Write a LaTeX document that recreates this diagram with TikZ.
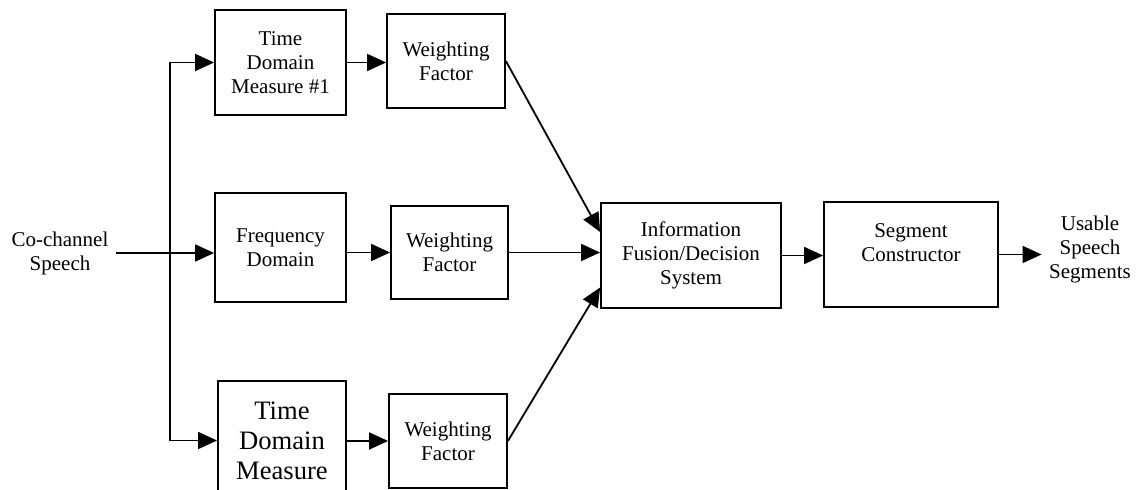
\documentclass[tikz,border=0pt]{standalone}
\usepackage{fontspec}
\setmainfont{Liberation Serif}
\usetikzlibrary{arrows.meta,calc}

\begin{document}
\begin{tikzpicture}[x=0.5pt, y=-0.5pt, line width=0.9pt,
  blk/.style={draw, align=center, inner sep=1pt, font=\fontsize{10.5}{12}\selectfont},
  lbl/.style={align=center, font=\fontsize{10.5}{12}\selectfont},
  >={Triangle[length=9.5pt,width=8.5pt]}]
  \useasboundingbox (0,0) rectangle (1141,490);
  \node[blk, minimum width=65.5pt, minimum height=52.5pt] (tdA) at (280.5,62.5) {Time\\Domain\\Measure \#1};
  \node[blk, minimum width=59pt, minimum height=47pt] (wfA) at (446,61) {Weighting\\Factor};
  \node[blk, minimum width=65.5pt, minimum height=54.5pt] (fd) at (280.5,247.5) {Frequency\\Domain};
  \node[blk, minimum width=58.5pt, minimum height=46.5pt] (wfB) at (449.5,252.5) {Weighting\\Factor};
  \node[blk, minimum width=64pt, minimum height=59.5pt, font=\fontsize{13.3}{15}\selectfont] (tdC) at (282,440.5) {Time\\Domain\\Measure};
  \node[blk, minimum width=59pt, minimum height=47pt] (wfC) at (448,441) {Weighting\\Factor};
  \node[blk, minimum width=90pt, minimum height=52.5pt] (fus) at (691,255.5) {Information\\Fusion/Decision\\System};
  \node[blk, minimum width=87pt, minimum height=52.5pt] (seg) at (911,254.5) {Segment\\Constructor\\\mbox{}};
  \node[lbl] (cc) at (60,253) {Co-channel\\Speech};
  \node[lbl] (out) at (1090,249) {Usable\\Speech\\Segments};
  \coordinate (split) at (170,253);

  \draw[->] (cc.east) -- (cc.east -| fd.west);
  \draw[->] (split) |- (tdA.west);
  \draw[->] (split) |- (tdC.west);
  \draw[->] (tdA.east) -- (tdA.east -| wfA.west);
  \draw[->] (fd.east |- wfB.west) -- (wfB.west);
  \draw[->] (tdC.east |- wfC.west) -- (wfC.west);
  \draw[->] (wfA.east) -- ($(fus.north west)!0.28!(fus.south west)$);
  \draw[->] (wfB.east) -- (wfB.east -| fus.west);
  \draw[->] (wfC.east) -- ($(fus.north west)!0.8!(fus.south west)$);
  \draw[->] (fus.east) -- (fus.east -| seg.west);
  \draw[->] (seg.east) -- (seg.east -| out.west);
\end{tikzpicture}
\end{document}
